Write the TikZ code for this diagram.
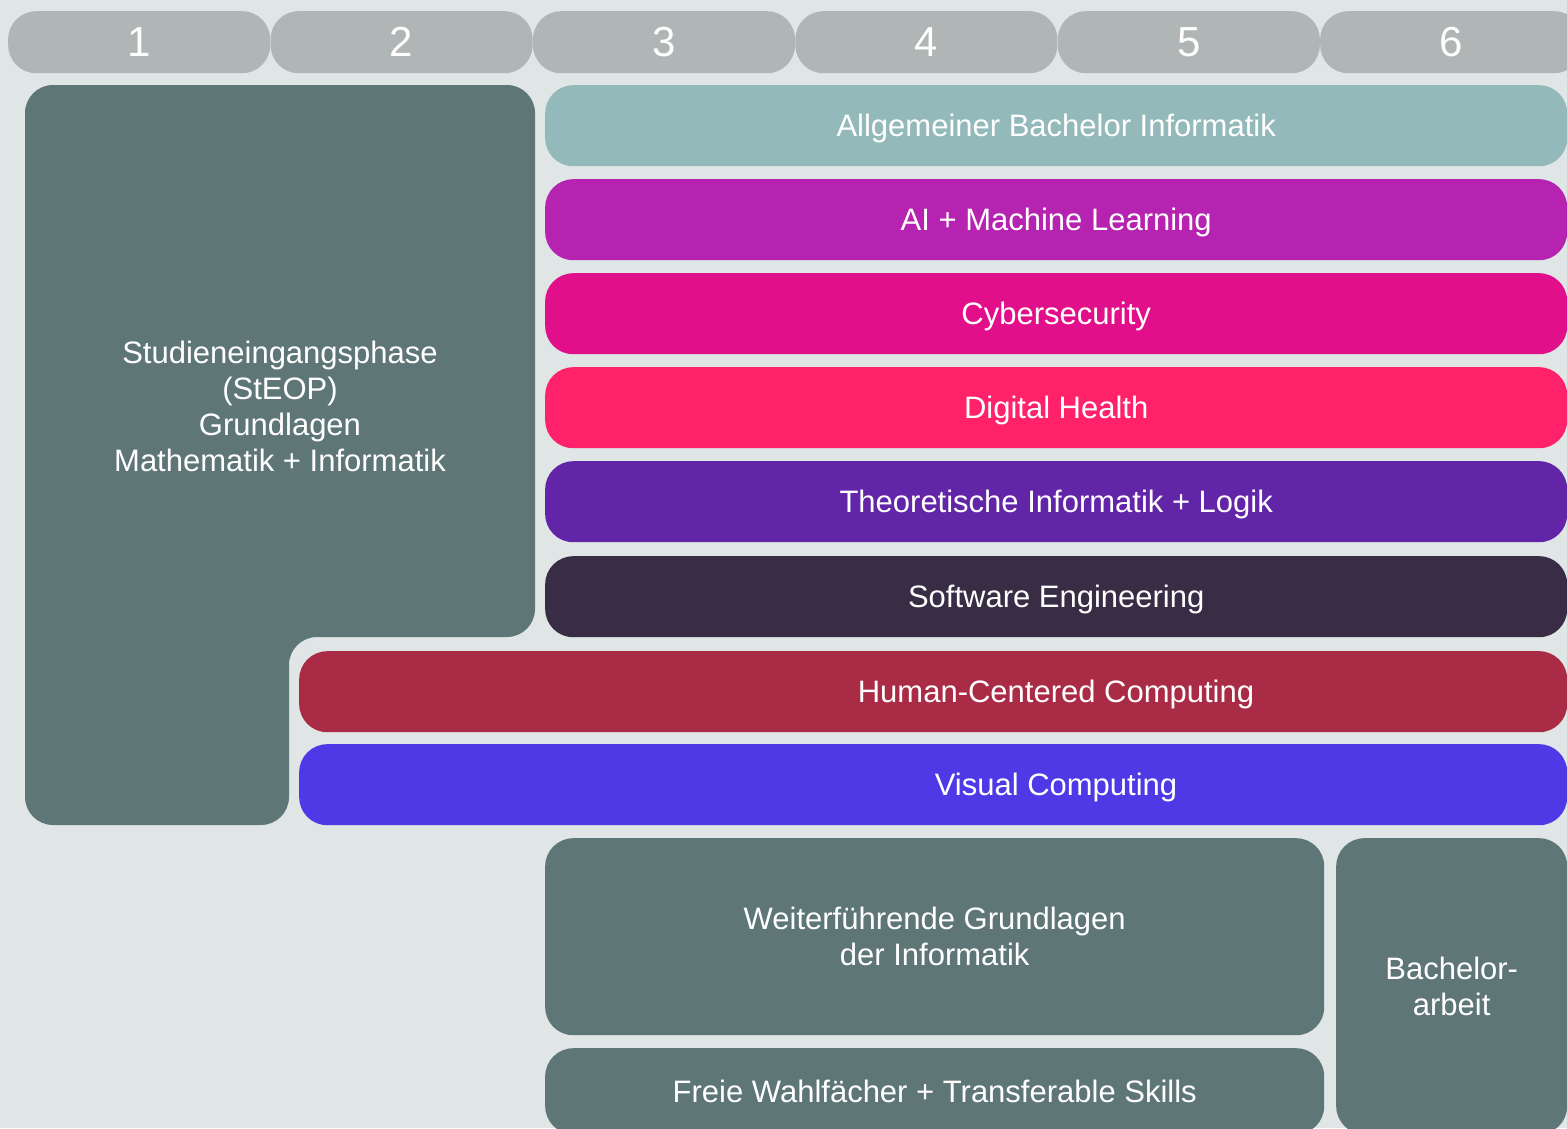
\documentclass[tikz,border=0pt]{standalone}
\usepackage{fontspec}
\setmainfont{Liberation Sans}
\usepackage{xcolor}

\definecolor{bgcolor}{HTML}{E0E6E6}
\definecolor{semgray}{HTML}{B0B6B5}
\definecolor{slate}{HTML}{5F7677}
\definecolor{allgcolor}{HTML}{94B9BA}
\definecolor{aicolor}{HTML}{B523B0}
\definecolor{cybercolor}{HTML}{E20F8A}
\definecolor{healthcolor}{HTML}{FF2169}
\definecolor{theocolor}{HTML}{6325A8}
\definecolor{softcolor}{HTML}{382D45}
\definecolor{hcccolor}{HTML}{AA2B46}
\definecolor{viscolor}{HTML}{4E39E6}

\tikzset{
    semester/.style={rectangle, rounded corners=28pt, fill=semgray, text=white,
        minimum width=262pt, minimum height=62pt, anchor=north west, inner sep=0pt,
        font=\fontsize{42}{42}\selectfont},
    block/.style={rectangle, rounded corners=28pt, text=white, inner sep=0pt,
        anchor=north west, align=center, font=\fontsize{31}{36}\selectfont},
    track/.style={block, minimum width=1022pt, minimum height=81pt,
        text height=22pt, text depth=0pt},
    tracktext/.style={text=white, font=\fontsize{31}{36}\selectfont}
}

\begin{document}
\begin{tikzpicture}[x=1pt, y=-1pt]
    \useasboundingbox (0,0) rectangle (1567,1128);
    \clip (0,0) rectangle (1567,1128);
    \fill[bgcolor] (0,0) rectangle (1567,1128);

    % semesters
    \foreach \i in {1,...,6}
        \node[semester] (sem\i) at ({8+262.4*(\i-1)},11) {\i};

    % StEOP block
    \fill[slate, rounded corners=28pt] (25,85) -- (535,85) -- (535,637) -- (289,637)
        -- (289,825) -- (25,825) -- cycle;
    \node[tracktext, align=center] (steop) at (280,406)
        {Studieneingangsphase\\(StEOP)\\Grundlagen\\Mathematik + Informatik};

    % tracks
    \node[track, fill=allgcolor] (allg) at (545,85) {Allgemeiner Bachelor Informatik};
    \node[track, fill=aicolor] (ai) at (545,179) {AI + Machine Learning};
    \node[track, fill=cybercolor] (cyber) at (545,273) {Cybersecurity};
    \node[track, fill=healthcolor] (health) at (545,367) {Digital Health};
    \node[track, fill=theocolor] (theo) at (545,461) {Theoretische Informatik + Logik};
    \node[track, fill=softcolor] (soft) at (545,556) {Software Engineering};

    \node[block, fill=hcccolor, minimum width=1268pt, minimum height=81pt] (hcc) at (299,651) {};
    \node[tracktext] (hcctext) at (1056,694) {Human-Centered Computing};
    \node[block, fill=viscolor, minimum width=1268pt, minimum height=81pt] (visual) at (299,744) {};
    \node[tracktext] (vistext) at (1056,787) {Visual Computing};

    % later semesters
    \node[block, fill=slate, minimum width=779pt, minimum height=197pt] (weiter) at (545,838)
        {Weiterführende Grundlagen\\der Informatik};
    \node[block, fill=slate, minimum width=779pt, minimum height=86pt] (freie) at (545,1048)
        {Freie Wahlfächer + Transferable Skills};
    \node[block, fill=slate, minimum width=231pt, minimum height=296pt] (bach) at (1336,838)
        {Bachelor-\\arbeit};
\end{tikzpicture}
\end{document}
